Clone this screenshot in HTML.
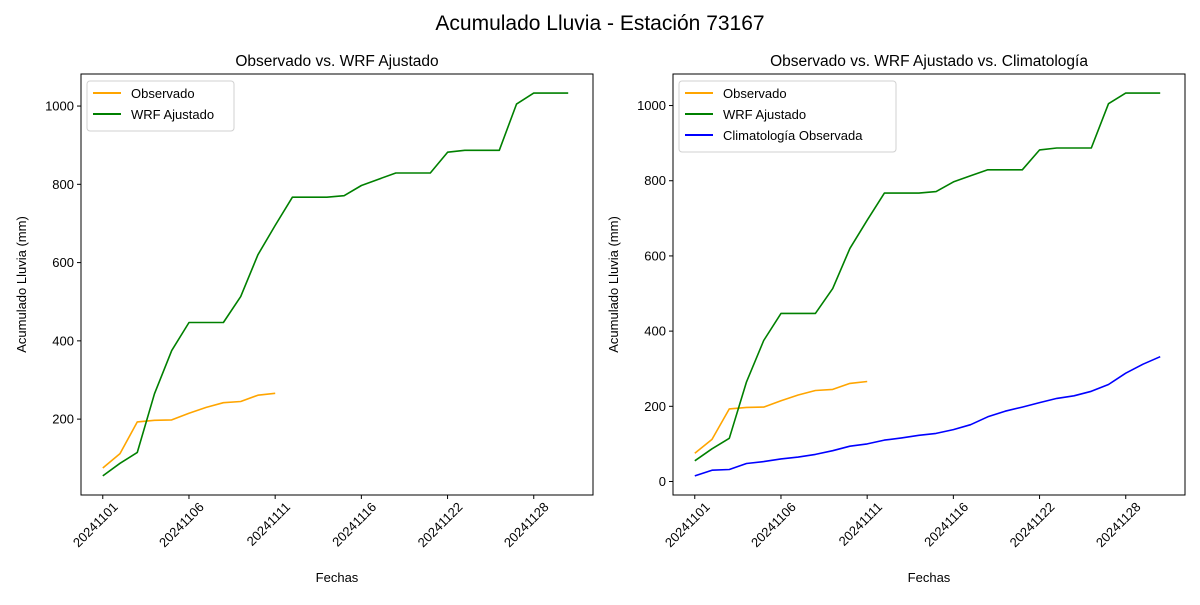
<!DOCTYPE html>
<html><head><meta charset="utf-8"><style>
body{margin:0;background:#fff;}
svg text{font-family:"Liberation Sans","DejaVu Sans",sans-serif;}
</style></head><body>
<svg id="s" width="1200" height="600" xmlns="http://www.w3.org/2000/svg">
<text x="600" y="30" font-size="21" text-anchor="middle">Acumulado Lluvia - Estación 73167</text>
</svg>
<script>
const wrf=[55,87,115,265,375,447,447,447,513,620,695,767,767,767,771,797,813,829,829,829,882,887,887,887,1005,1033,1033,1033];
const obs=[75,112,193,197,198,215,230,242,245,261,266];
const clim=[15,30,32,48,53,60,65,72,82,94,100,110,116,123,128,138,151,172,187,198,210,221,228,240,258,288,312,332];
const s=document.getElementById('s');let h='';
function plot(L,title,series,ymin,ymax,yt,legend){
 const T=74,B=495,R=L+512;
 const X=i=>L-1.5+(i+1.35)*512/29.7, Y=v=>B-(v-ymin)*421/(ymax-ymin);
 h+=`<text x="${(L+R)/2}" y="66" font-size="15.5" text-anchor="middle">${title}</text>`;
 for(const [d,c] of series){h+=`<polyline fill="none" stroke="${c}" stroke-width="1.6" stroke-linejoin="round" points="${d.map((v,i)=>X(i).toFixed(1)+','+Y(v).toFixed(1)).join(' ')}"/>`;}
 h+=`<rect x="${L}" y="${T}" width="512" height="421" fill="none" stroke="#000" stroke-width="1"/>`;
 for(const v of yt){const y=Y(v);h+=`<line x1="${L-4}" x2="${L}" y1="${y}" y2="${y}" stroke="#000"/><text x="${L-7}" y="${y+4.5}" font-size="13" text-anchor="end">${v}</text>`;}
 const lab=['20241101','20241106','20241111','20241116','20241122','20241128'];
 lab.forEach((t,k)=>{const x=X(k*5);h+=`<line x1="${x}" x2="${x}" y1="${B}" y2="${B+4}" stroke="#000"/><text transform="translate(${x+9},${B+6}) rotate(-45)" font-size="13" text-anchor="end" dominant-baseline="hanging">${t}</text>`;});
 h+=`<text x="${(L+R)/2}" y="582" font-size="13" text-anchor="middle">Fechas</text>`;
 h+=`<text transform="translate(${L-55},${(T+B)/2}) rotate(-90)" font-size="13" text-anchor="middle">Acumulado Lluvia (mm)</text>`;
 const lw=legend.w,lh=legend.items.length*21+8;
 h+=`<rect x="${L+6}" y="81" width="${lw}" height="${lh}" rx="3" fill="#fff" stroke="#ccc" opacity="0.9"/>`;
 legend.items.forEach(([t,c],k)=>{const y=93+k*21;h+=`<line x1="${L+12}" x2="${L+40}" y1="${y}" y2="${y}" stroke="${c}" stroke-width="2"/><text x="${L+50}" y="${y+5}" font-size="13">${t}</text>`;});
}
plot(81,'Observado vs. WRF Ajustado',[[obs,'orange'],[wrf,'green']],6.1,1081.9,[200,400,600,800,1000],{w:147,items:[['Observado','orange'],['WRF Ajustado','green']]});
plot(673,'Observado vs. WRF Ajustado vs. Climatología',[[obs,'orange'],[wrf,'green'],[clim,'blue']],-35.9,1083.9,[0,200,400,600,800,1000],{w:217,items:[['Observado','orange'],['WRF Ajustado','green'],['Climatología Observada','blue']]});
s.insertAdjacentHTML('beforeend',h);
</script>
</body></html>
